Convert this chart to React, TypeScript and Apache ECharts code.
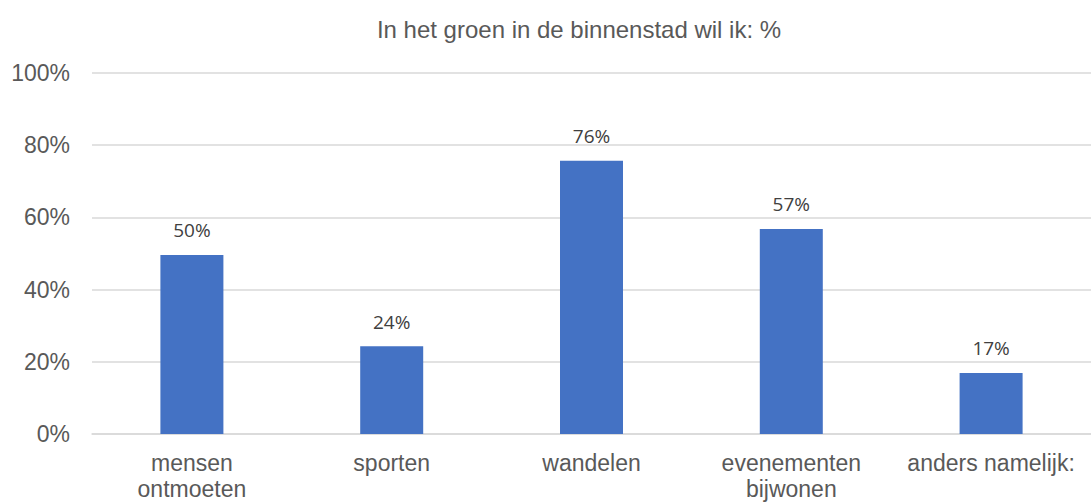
import React, { useEffect, useRef } from "react";
import * as echarts from "echarts";

const categories = ["mensen\nontmoeten", "sporten", "wandelen", "evenementen\nbijwonen", "anders namelijk:"];
const values = [49.6, 24.3, 75.7, 56.8, 16.9];
const yTicks = [0, 20, 40, 60, 80, 100];
const titleText = "In het groen in de binnenstad wil ik: %";

const SANS = "'Liberation Sans', Arial, sans-serif";

export default function App() {
  const ref = useRef<HTMLDivElement>(null);
  useEffect(() => {
    if (!ref.current) return;
    const chart = echarts.init(ref.current, null, { renderer: "svg" });
    chart.setOption({
      animation: false,
      backgroundColor: "#ffffff",
      title: {
        text: titleText,
        left: 574,
        top: 12,
        textAlign: "center",
        textStyle: { fontFamily: SANS, fontSize: 24, fontWeight: "normal", color: "#595959" },
      },
      grid: { left: 92, top: 73, width: 1005, height: 364, containLabel: false },
      xAxis: {
        type: "category",
        data: categories,
        axisLine: { show: true, lineStyle: { color: "#d9d9d9", width: 1.5 } },
        axisTick: { show: false },
        axisLabel: {
          interval: 0,
          margin: 16,
          fontFamily: SANS,
          fontSize: 23,
          lineHeight: 26,
          color: "#595959",
        },
      },
      yAxis: {
        type: "value",
        min: yTicks[0],
        max: yTicks[yTicks.length - 1],
        interval: 20,
        axisLine: { show: false },
        axisTick: { show: false },
        splitLine: { lineStyle: { color: "#d9d9d9", width: 1.5 } },
        axisLabel: {
          margin: 22,
          formatter: (v: number) => v + "%",
          fontFamily: SANS,
          fontSize: 23,
          color: "#595959",
        },
      },
      series: [
        {
          type: "bar",
          data: values,
          barWidth: 63,
          itemStyle: { color: "#4472c4" },
          label: {
            show: true,
            position: "top",
            distance: 15,
            formatter: (p: any) => Math.round(p.value) + "%",
            fontFamily: "'Open Sans', sans-serif",
            fontSize: 19,
            color: "#404040",
          },
        },
      ],
    });
    return () => chart.dispose();
  }, []);
  return <div ref={ref} style={{ position: "absolute", left: 0, top: 0, width: 1091, height: 502 }} />;
}
